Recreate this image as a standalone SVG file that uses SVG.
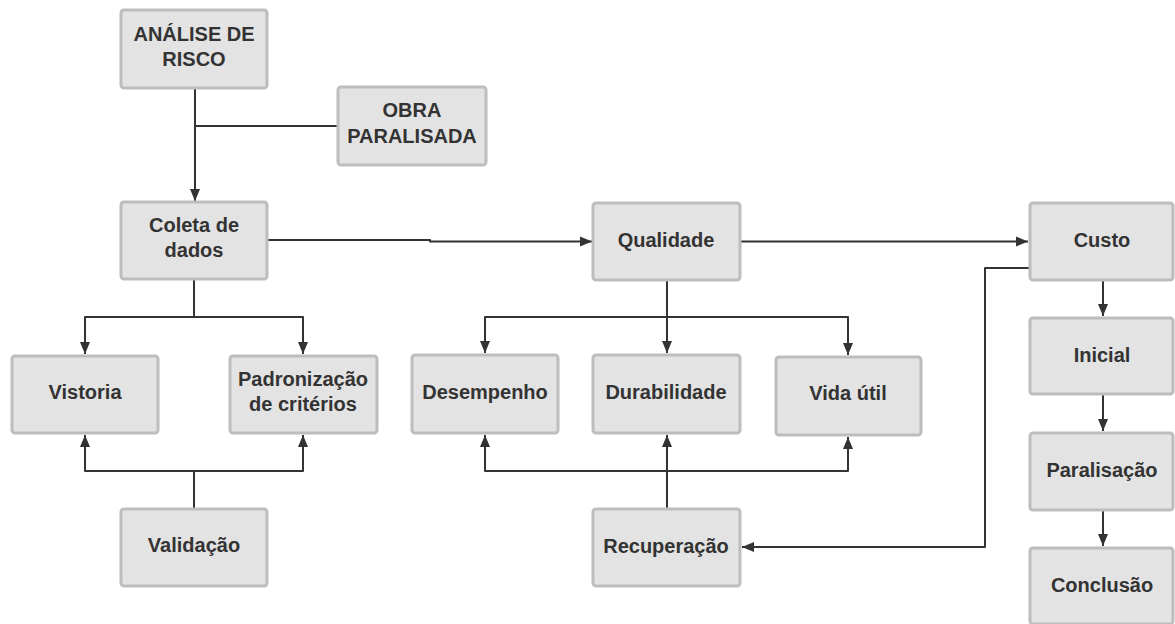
<svg xmlns="http://www.w3.org/2000/svg" width="1175" height="624" viewBox="0 0 1175 624">
  <style>
    .box { fill: #e3e3e3; stroke: #bdbdbd; stroke-width: 3; }
    .lbl { font-family: "Liberation Sans", Arial, sans-serif; font-weight: bold; font-size: 20px; fill: #333333; text-anchor: middle; }
    .edge { fill: none; stroke: #333333; stroke-width: 2; stroke-linejoin: round; }
  </style>
  <defs>
    <marker id="arrow" markerUnits="userSpaceOnUse" markerWidth="13" markerHeight="11" refX="12" refY="5.5" orient="auto">
      <path d="M0,0.5 L12,5.5 L0,10.5 z" fill="#333333"/>
    </marker>
  </defs>
  <rect width="1175" height="624" fill="#ffffff"/>

  <!-- connectors: elbow routes with filled arrowheads -->
  <g id="connectors">
    <path class="edge" d="M195,88 V201" marker-end="url(#arrow)"/>
    <path class="edge" d="M338,126 H195"/>
    <path class="edge" d="M267,240 H430 V241.5 H592" marker-end="url(#arrow)"/>
    <path class="edge" d="M194,279 V317 H85 V354" marker-end="url(#arrow)"/>
    <path class="edge" d="M194,317 H303 V354" marker-end="url(#arrow)"/>
    <path class="edge" d="M194,509 V471 H85 V435" marker-end="url(#arrow)"/>
    <path class="edge" d="M194,471 H303 V435" marker-end="url(#arrow)"/>
    <path class="edge" d="M667,280 V353" marker-end="url(#arrow)"/>
    <path class="edge" d="M667,317 H485 V353" marker-end="url(#arrow)"/>
    <path class="edge" d="M667,317 H848 V355" marker-end="url(#arrow)"/>
    <path class="edge" d="M667,509 V435" marker-end="url(#arrow)"/>
    <path class="edge" d="M667,471 H485 V435" marker-end="url(#arrow)"/>
    <path class="edge" d="M667,471 H848 V437" marker-end="url(#arrow)"/>
    <path class="edge" d="M740,241.5 H1028" marker-end="url(#arrow)"/>
    <path class="edge" d="M1030,268 H985 V547 H742" marker-end="url(#arrow)"/>
    <path class="edge" d="M1103,280 V316" marker-end="url(#arrow)"/>
    <path class="edge" d="M1103,394 V431" marker-end="url(#arrow)"/>
    <path class="edge" d="M1103,510 V546" marker-end="url(#arrow)"/>
  </g>

  <g id="analise-risco">
    <rect class="box" x="121" y="10" width="146" height="78" rx="3"/>
    <text class="lbl" x="194" y="41">ANÁLISE DE</text>
    <text class="lbl" x="194" y="66">RISCO</text>
  </g>
  <g id="obra-paralisada">
    <rect class="box" x="338" y="87" width="148" height="78" rx="3"/>
    <text class="lbl" x="412" y="117">OBRA</text>
    <text class="lbl" x="412" y="143">PARALISADA</text>
  </g>
  <g id="coleta-dados">
    <rect class="box" x="121" y="202" width="146" height="77" rx="3"/>
    <text class="lbl" x="194" y="232">Coleta de</text>
    <text class="lbl" x="194" y="257">dados</text>
  </g>
  <g id="vistoria">
    <rect class="box" x="12" y="356" width="146" height="77" rx="3"/>
    <text class="lbl" x="85" y="399">Vistoria</text>
  </g>
  <g id="padronizacao">
    <rect class="box" x="230" y="356" width="147" height="77" rx="3"/>
    <text class="lbl" x="303" y="386">Padronização</text>
    <text class="lbl" x="303" y="411">de critérios</text>
  </g>
  <g id="validacao">
    <rect class="box" x="121" y="509" width="146" height="77" rx="3"/>
    <text class="lbl" x="194" y="552">Validação</text>
  </g>
  <g id="qualidade">
    <rect class="box" x="593" y="203" width="147" height="77" rx="3"/>
    <text class="lbl" x="666" y="247">Qualidade</text>
  </g>
  <g id="desempenho">
    <rect class="box" x="412" y="355" width="146" height="78" rx="3"/>
    <text class="lbl" x="485" y="399">Desempenho</text>
  </g>
  <g id="durabilidade">
    <rect class="box" x="593" y="355" width="147" height="78" rx="3"/>
    <text class="lbl" x="666" y="399">Durabilidade</text>
  </g>
  <g id="vida-util">
    <rect class="box" x="776" y="357" width="145" height="78" rx="3"/>
    <text class="lbl" x="848" y="400">Vida útil</text>
  </g>
  <g id="recuperacao">
    <rect class="box" x="593" y="509" width="147" height="77" rx="3"/>
    <text class="lbl" x="666" y="553">Recuperação</text>
  </g>
  <g id="custo">
    <rect class="box" x="1030" y="203" width="143" height="77" rx="3"/>
    <text class="lbl" x="1102" y="247">Custo</text>
  </g>
  <g id="inicial">
    <rect class="box" x="1030" y="318" width="143" height="76" rx="3"/>
    <text class="lbl" x="1102" y="362">Inicial</text>
  </g>
  <g id="paralisacao">
    <rect class="box" x="1030" y="433" width="143" height="77" rx="3"/>
    <text class="lbl" x="1102" y="477">Paralisação</text>
  </g>
  <g id="conclusao">
    <rect class="box" x="1030" y="548" width="143" height="76" rx="3"/>
    <text class="lbl" x="1102" y="592">Conclusão</text>
  </g>
</svg>
